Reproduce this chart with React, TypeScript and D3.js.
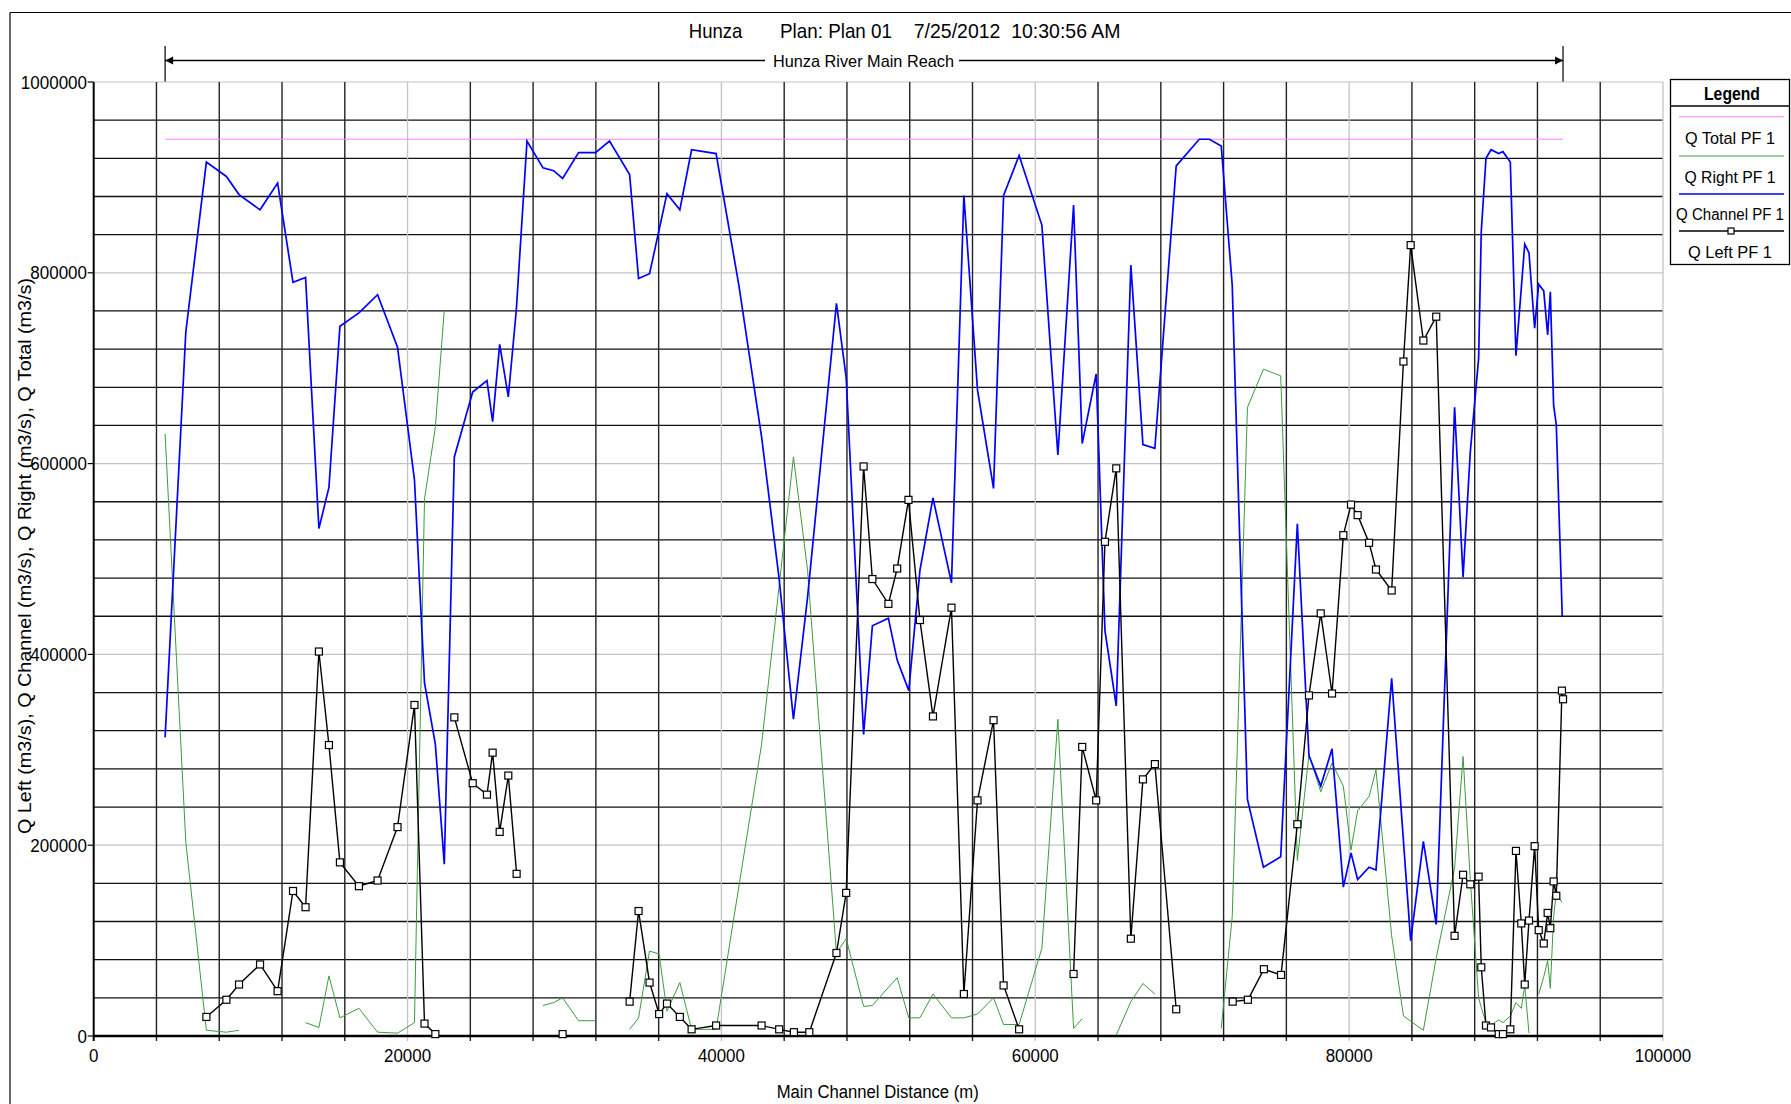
import React from 'react';
import * as d3 from 'd3';

type P = [number, number] | null;

const xTicks = [0, 20000, 40000, 60000, 80000, 100000];
const yTicks = [0, 200000, 400000, 600000, 800000, 1000000];
const xGridStep = 4000;
const yGridStep = 40000;

const titleParts = ['Hunza', 'Plan: Plan 01', '7/25/2012  10:30:56 AM'];
const reachLabel = 'Hunza River Main Reach';
const xTitle = 'Main Channel Distance (m)';
const yTitle = 'Q Left (m3/s), Q Channel (m3/s), Q Right (m3/s), Q Total (m3/s)';
const legendLabels = ['Q Total PF 1', 'Q Right PF 1', 'Q Channel PF 1', 'Q Left PF 1'];
const reachStart = 4550;
const reachEnd = 93630;

const qTotal: P[] = [[4550, 940000], [93630, 940000]];

const qChannel: P[] = [
  [4550, 313000], [5870, 738000], [7180, 916000], [8455, 901000], [9260, 882000],
  [10600, 866000], [11720, 894000], [12700, 790000], [13500, 795000], [14350, 532000],
  [14990, 575000], [15690, 744000], [16900, 758000], [18090, 777000], [19360, 722000],
  [20440, 583000], [21080, 370000], [21770, 306000], [22340, 180000], [22980, 607000],
  [24150, 675000], [25060, 687000], [25420, 644000], [25870, 725000], [26420, 670000],
  [26930, 761000], [27610, 938000], [28630, 910000], [29310, 907000], [29880, 899000],
  [30900, 926000], [31980, 926000], [32870, 938000], [34150, 903000], [34720, 794000],
  [35420, 799000], [36530, 883000], [37350, 866000], [38100, 929000], [39660, 925000],
  [41110, 787000], [42560, 628000], [43680, 479000], [44590, 332000], [45490, 460000],
  [47330, 768000], [47950, 690000], [49060, 316000], [49620, 430000], [50640, 438000],
  [51200, 394000], [51940, 362000], [52650, 488000], [53480, 564000], [54660, 475000],
  [55450, 881000], [56320, 677000], [57340, 574000], [57980, 881000], [58970, 923000],
  [60420, 850000], [61440, 609000], [62440, 871000], [62990, 621000], [63880, 694000],
  [64440, 425000], [65160, 346000], [66090, 808000], [66860, 620000], [67620, 616000],
  [68980, 912000], [70450, 940000], [71090, 940000], [71850, 933000], [72550, 787000],
  [73520, 248000], [74540, 177000], [75640, 188000], [76700, 537000], [77440, 294000],
  [78190, 262000], [78910, 301000], [79630, 156000], [80120, 192000], [80540, 164000],
  [81270, 177000], [81710, 174000], [82710, 375000], [83920, 100000], [84730, 204000],
  [85550, 117000], [86720, 659000], [87260, 481000], [87720, 612000], [88250, 710000],
  [88420, 843000], [88720, 920000], [89040, 929000], [89530, 925000], [89800, 927000],
  [90270, 916000], [90630, 713000], [91190, 830000], [91460, 821000], [91820, 742000],
  [92080, 788000], [92400, 781000], [92650, 735000], [92820, 780000], [93030, 661000],
  [93200, 641000], [93580, 440000],
];

const qRight: P[] = [
  [4550, 631000], [5870, 203000], [7180, 6000], [8455, 4000], [9260, 6000],
  null,
  [13500, 14000], [14350, 9000], [14990, 63000], [15690, 19000], [16900, 29000],
  [18090, 4000], [19360, 3000], [20440, 14000], [21080, 563000], [21770, 638000],
  [22340, 761000],
  null,
  [28630, 32000], [29310, 35000], [29880, 40000], [30900, 16000], [31980, 16000],
  null,
  [34150, 7000], [34720, 19000], [35420, 89000], [36030, 86000], [36530, 26000],
  [37350, 56000], [38100, 7000], [39660, 7000], [42560, 306000], [43680, 472000],
  [44590, 607000], [45490, 488000], [47330, 87000], [47950, 102000], [49060, 31000],
  [49620, 32000], [50640, 51000], [51200, 61000], [51940, 19000], [52650, 19000],
  [53480, 44000], [54660, 19000], [55450, 19000], [56320, 23000], [57340, 40000],
  [57980, 12000], [58970, 12000], [60420, 92000], [61440, 332000], [62440, 8000],
  [62990, 18000],
  null,
  [65160, 1000], [66090, 36000], [66860, 55000], [67620, 44000],
  null,
  [71850, 8000], [72550, 125000], [73520, 659000], [74540, 699000], [75640, 692000],
  [76700, 184000], [77440, 295000], [78190, 256000], [78910, 286000], [79630, 262000],
  [80120, 195000], [80540, 236000], [81270, 251000], [81710, 279000], [82710, 105000],
  [83460, 21000], [84730, 6000], [85550, 82000], [86720, 176000], [87260, 293000],
  [87720, 164000], [88250, 40000], [88420, 30000], [88720, 14000], [89040, 11000],
  [89530, 17000], [89800, 14000], [90270, 21000], [90630, 35000], [90970, 29000],
  [91190, 53000], [91460, 3000],
  null,
  [92080, 44000], [92400, 62000], [92650, 79000], [92820, 50000], [93030, 125000],
  [93200, 150000], [93560, 140000],
];

const qLeft: P[] = [
  [7180, 20000], [8455, 38000], [9260, 54000], [10600, 75000], [11720, 47000],
  [12700, 152000], [13500, 135000], [14350, 403000], [14990, 305000], [15690, 182000],
  [16900, 157000], [18090, 163000], [19360, 219000], [20440, 347000], [21080, 13000],
  [21770, 2000],
  null,
  [22980, 334000], [24150, 265000], [25060, 253000], [25420, 297000], [25870, 214000],
  [26420, 273000], [26950, 170000],
  null,
  [29880, 2000],
  null,
  [34150, 36000], [34720, 131000], [35420, 56000], [36030, 23000], [36530, 34000],
  [37350, 20000], [38100, 7000], [39660, 11000], [42560, 11000], [43680, 7000],
  [44620, 4000], [45600, 4000], [47330, 87000], [47950, 150000], [49060, 597000],
  [49620, 479000], [50640, 453000], [51200, 490000], [51920, 562000], [52650, 436000],
  [53480, 335000], [54660, 449000], [55450, 44000], [56320, 247000], [57340, 331000],
  [57980, 53000], [58970, 7000],
  null,
  [62440, 65000], [62990, 303000], [63880, 247000], [64440, 518000], [65160, 595000],
  [66090, 102000], [66860, 269000], [67620, 285000], [68980, 28000],
  null,
  [72580, 36000], [73550, 38000], [74570, 70000], [75660, 64000], [76700, 222000],
  [77440, 357000], [78190, 443000], [78910, 359000], [79630, 525000], [80120, 557000],
  [80540, 546000], [81270, 517000], [81710, 489000], [82710, 467000], [83460, 707000],
  [83920, 829000], [84730, 729000], [85550, 754000], [86720, 105000], [87260, 169000],
  [87720, 159000], [88250, 167000], [88420, 72000], [88720, 11000], [89040, 9000],
  [89530, 2000], [89800, 2000], [90270, 7000], [90630, 194000], [90970, 118000],
  [91190, 54000], [91460, 121000], [91820, 199000], [92080, 111000], [92400, 97000],
  [92650, 129000], [92820, 113000], [93030, 162000], [93200, 147000], [93560, 362000],
  [93630, 353000],
];

const FONT = "'Liberation Sans Narrow', 'Arial Narrow', 'Liberation Sans', Arial, sans-serif";

export default function App() {
  const W = 1791, H = 1104;
  const x = d3.scaleLinear().domain([0, 100000]).range([93.7, 1663]);
  const y = d3.scaleLinear().domain([0, 1000000]).range([1036, 82]);

  const line = d3.line<P>()
    .defined((d) => d !== null)
    .x((d) => x((d as [number, number])[0]))
    .y((d) => y((d as [number, number])[1]));

  const xGrid = d3.range(xGridStep, 100000 + 1, xGridStep);
  const yGrid = d3.range(yGridStep, 1000000 + 1, yGridStep);
  const isMajorX = (v: number) => v % 20000 === 0;
  const isMajorY = (v: number) => v % 200000 === 0;

  const x0 = x(reachStart), x1 = x(reachEnd);
  const reachY = 60.5;

  const legendRows = [
    { label: legendLabels[0], color: '#ff80ff', w: 1, ly: 116.7, ty: 138, tw: 90, fs: 17, marker: false },
    { label: legendLabels[1], color: '#3c9c3c', w: 1, ly: 156, ty: 177, tw: 91, fs: 17, marker: false },
    { label: legendLabels[2], color: '#0000ff', w: 1.6, ly: 194, ty: 214, tw: 108, fs: 16, marker: false },
    { label: legendLabels[3], color: '#000000', w: 1.4, ly: 231, ty: 252, tw: 84, fs: 17, marker: true },
  ];

  return (
    <svg width={W} height={H} style={{ position: 'absolute', left: 0, top: 0, background: '#fff' }}
      fontFamily={FONT}>
      <rect x={0} y={0} width={W} height={H} fill="#fff" />
      {/* outer frame */}
      <line x1={10} y1={12.5} x2={W} y2={12.5} stroke="#000" strokeWidth={1.2} />
      <line x1={10} y1={12.5} x2={10} y2={H} stroke="#000" strokeWidth={1.2} />

      {/* title */}
      <text x={688.8} y={38} fontSize={21} textLength={53.6} lengthAdjust="spacingAndGlyphs">{titleParts[0]}</text>
      <text x={780} y={38} fontSize={21} textLength={112} lengthAdjust="spacingAndGlyphs">{titleParts[1]}</text>
      <text x={913.8} y={38} fontSize={21} textLength={206.7} lengthAdjust="spacingAndGlyphs" style={{ whiteSpace: 'pre' }}>{titleParts[2]}</text>

      {/* reach arrow */}
      <line x1={x0} y1={46} x2={x0} y2={82} stroke="#000" strokeWidth={1.2} />
      <line x1={x1} y1={46} x2={x1} y2={82} stroke="#000" strokeWidth={1.2} />
      <line x1={x0} y1={reachY} x2={x1} y2={reachY} stroke="#000" strokeWidth={1.5} />
      <polygon points={`${x0},${reachY} ${x0 + 8},${reachY - 4} ${x0 + 8},${reachY + 4}`} fill="#000" />
      <polygon points={`${x1},${reachY} ${x1 - 8},${reachY - 4} ${x1 - 8},${reachY + 4}`} fill="#000" />
      <rect x={765} y={reachY - 9} width={194} height={18} fill="#fff" />
      <text x={773} y={reachY + 6} fontSize={17} textLength={181} lengthAdjust="spacingAndGlyphs">{reachLabel}</text>

      {/* grid */}
      {yGrid.map((v) => (
        <line key={'hy' + v} x1={x(0)} x2={x(100000)} y1={y(v)} y2={y(v)}
          stroke={isMajorY(v) ? '#c4c4c4' : '#111'} strokeWidth={isMajorY(v) ? 1.2 : 1.3} />
      ))}
      {xGrid.map((v) => (
        <line key={'vx' + v} x1={x(v)} x2={x(v)} y1={y(1000000)} y2={y(0) + 5}
          stroke={isMajorX(v) ? '#c4c4c4' : '#222'} strokeWidth={isMajorX(v) ? 1.3 : 1.4} />
      ))}

      {/* axes */}
      <line x1={x(0)} x2={x(0)} y1={y(1000000)} y2={y(0) + 5} stroke="#000" strokeWidth={2} />
      <line x1={x(0)} x2={x(100000)} y1={y(0)} y2={y(0)} stroke="#000" strokeWidth={2.6} />
      {yTicks.map((v) => (
        <g key={'yt' + v}>
          <line x1={x(0) - 6} x2={x(0)} y1={y(v)} y2={y(v)} stroke="#000" strokeWidth={1.2} />
          <text x={87} y={y(v) + 6.5} fontSize={18} textAnchor="end"
            textLength={String(v).length * 9.45} lengthAdjust="spacingAndGlyphs">{v}</text>
        </g>
      ))}
      {xTicks.map((v) => (
        <text key={'xt' + v} x={x(v)} y={1062} fontSize={18} textAnchor="middle"
          textLength={String(v).length * 9.4} lengthAdjust="spacingAndGlyphs">{v}</text>
      ))}
      <text x={776.7} y={1098} fontSize={18} textLength={202} lengthAdjust="spacingAndGlyphs">{xTitle}</text>
      <text transform="translate(31,556) rotate(-90)" fontSize={18} textAnchor="middle"
        textLength={556} lengthAdjust="spacingAndGlyphs">{yTitle}</text>

      {/* series */}
      <path d={line(qTotal) || ''} fill="none" stroke="#ff80ff" strokeWidth={1} />
      <path d={line(qRight) || ''} fill="none" stroke="#3c9c3c" strokeWidth={1} />
      <path d={line(qChannel) || ''} fill="none" stroke="#0000ff" strokeWidth={1.7} />
      <path d={line(qLeft) || ''} fill="none" stroke="#000" strokeWidth={1.4} />
      {qLeft.filter((d) => d !== null).map((d, i) => {
        const p = d as [number, number];
        return <rect key={'m' + i} x={x(p[0]) - 3.5} y={y(p[1]) - 3.5} width={7} height={7}
          fill="#fff" stroke="#000" strokeWidth={1.2} />;
      })}

      {/* legend */}
      <rect x={1670.5} y={79.5} width={119} height={185} fill="#fff" stroke="#000" strokeWidth={1.3} />
      <line x1={1670.5} x2={1789.5} y1={106} y2={106} stroke="#000" strokeWidth={1.3} />
      <text x={1704} y={100} fontSize={18} fontWeight="bold" textLength={56} lengthAdjust="spacingAndGlyphs">Legend</text>
      {legendRows.map((r) => (
        <g key={r.label}>
          <line x1={1679} x2={1784} y1={r.ly} y2={r.ly} stroke={r.color} strokeWidth={r.w} />
          {r.marker && <rect x={1728} y={r.ly - 3} width={6} height={6} fill="#fff" stroke="#000" strokeWidth={1.2} />}
          <text x={1730} y={r.ty + 6} fontSize={r.fs} textAnchor="middle" textLength={r.tw}
            lengthAdjust="spacingAndGlyphs">{r.label}</text>
        </g>
      ))}
    </svg>
  );
}
